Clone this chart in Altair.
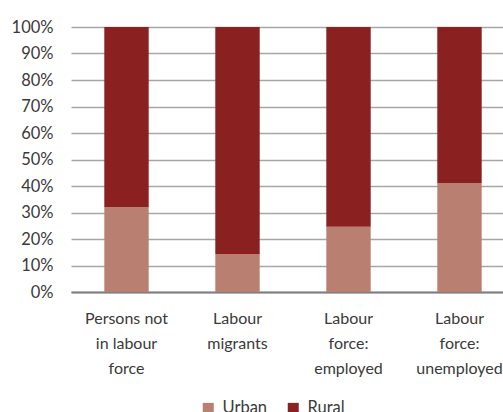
import altair as alt
import pandas as pd

categories = ["Persons not\nin labour\nforce", "Labour\nmigrants", "Labour\nforce:\nemployed", "Labour\nforce:\nunemployed"]
urban = [0.32, 0.143, 0.246, 0.411]
rural = [1 - v for v in urban]
series = ["Urban", "Rural"]
colors = ["#B98072", "#8B2020"]

rows = []
for c, u, r in zip(categories, urban, rural):
    rows.append({"cat": c, "series": "Urban", "value": u, "ord": 0})
    rows.append({"cat": c, "series": "Rural", "value": r, "ord": 1})
df = pd.DataFrame(rows)

font = "Lato"

chart = alt.Chart(df).mark_bar().encode(
    x=alt.X("cat:N", sort=categories, title=None,
            scale=alt.Scale(range=[0, 444], paddingInner=0.6, paddingOuter=0.3),
            axis=alt.Axis(labelAngle=0, labelExpr="split(datum.label, '\\n')",
                          labelLineHeight=25, labelFontSize=16, labelFont=font,
                          labelColor="#3A3A3A", ticks=False, labelPadding=18,
                          domainColor="#7F7F7F", domainWidth=2, labelBaseline="top")),
    y=alt.Y("value:Q", stack="zero", title=None,
            scale=alt.Scale(domain=[0, 1]),
            axis=alt.Axis(format=".0%", values=[i / 10 for i in range(11)],
                          domain=False, ticks=False, labelPadding=18,
                          labelFontSize=16.5, labelFont=font, labelColor="#3A3A3A",
                          gridColor="#A6A6A6", gridWidth=1.5)),
    color=alt.Color("series:N", sort=series,
                    scale=alt.Scale(domain=series, range=colors),
                    legend=alt.Legend(title=None, orient="none", direction="horizontal",
                                      legendX=129, legendY=373, symbolType="square",
                                      symbolSize=121, symbolStrokeWidth=0,
                                      labelFontSize=16.5, labelFont=font,
                                      labelColor="#3A3A3A", labelOffset=6,
                                      columnPadding=17)),
    order=alt.Order("ord:Q"),
).properties(
    width=432, height=265,
    autosize=alt.AutoSizeParams(type="none"),
    padding={"left": 71, "top": 27, "right": 0, "bottom": 120},
).configure_view(stroke=None)

chart.save("out.html", embed_options={"renderer": "svg", "actions": False})
